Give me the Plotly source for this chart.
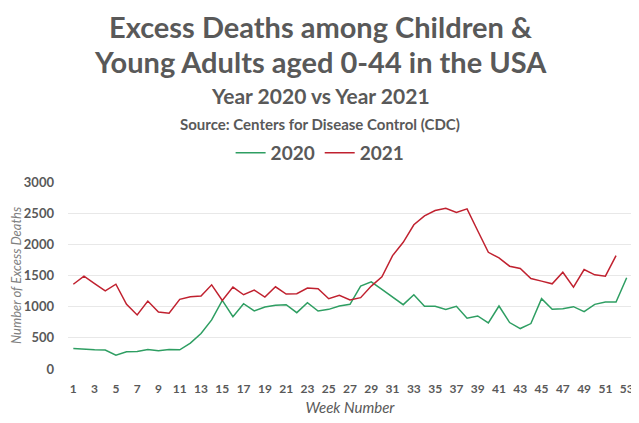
import plotly.graph_objects as go

# Weekly excess deaths, ages 0-44, USA (CDC)
weeks = list(range(1, 54))

deaths2020 = [330, 314, 308, 303, 223, 277, 282, 314, 293, 314,
              308, 415, 569, 787, 1101, 840, 1048, 931, 995, 1021,
              1032, 904, 1064, 931, 957, 1011, 1037, 1330, 1399, 1277,
              1160, 1032, 1191, 1005, 1005, 957, 1005, 814, 851, 739,
              1011, 745, 649, 729, 1128, 957, 968, 1000, 920, 1037,
              1074, 1074, 1463]

deaths2021 = [1360, 1490, 1370, 1255, 1360, 1037, 867, 1090, 915, 894,
              1117, 1160, 1170, 1350, 1101, 1314, 1191, 1266, 1154, 1319,
              1202, 1207, 1298, 1287, 1128, 1181, 1106, 1144, 1330, 1479,
              1819, 2032, 2314, 2457, 2543, 2580, 2511, 2569, 2218, 1872,
              1782, 1649, 1612, 1452, 1410, 1367, 1553, 1314, 1596, 1511,
              1489, 1819]

xTicks = list(range(1, 54, 2))
yTicks = [0, 500, 1000, 1500, 2000, 2500, 3000]

# Styles
fontFam = "Lato, 'Open Sans', sans-serif"
textColor = "#595959"
green = "#2E9E62"
red = "#C0212F"
centerX = 0.447   # title block centre, in plot-area fraction

# the page body has an 8px margin, so the figure is drawn 8px smaller
figW, figH = 639 - 8, 423 - 8

fig = go.Figure()
fig.add_trace(go.Scatter(x=weeks, y=deaths2020, mode="lines", name="<b>2020</b>",
                         line=dict(color=green, width=1.5)))
fig.add_trace(go.Scatter(x=weeks[:len(deaths2021)], y=deaths2021, mode="lines", name="<b>2021</b>",
                         line=dict(color=red, width=1.5)))

fig.update_layout(
    width=figW, height=figH,
    margin=dict(l=60, r=7, t=174, b=54, autoexpand=False),
    paper_bgcolor="white", plot_bgcolor="white",
    font=dict(family=fontFam, color=textColor),
    legend=dict(orientation="h", x=centerX, xanchor="center", y=1.155, yanchor="middle",
                font=dict(size=19, color=textColor), itemwidth=30,
                tracegroupgap=0),
    showlegend=True,
)

# Title block (plot area is 187px tall)
titleLines = [("<b>Excess Deaths among Children &</b>", 1.829, 29),
              ("<b>Young Adults aged 0-44 in the USA</b>", 1.647, 29),
              ("<b>Year 2020 vs Year 2021</b>", 1.460, 21),
              ("<b>Source: Centers for Disease Control (CDC)</b>", 1.310, 15)]
for txt, yPos, sz in titleLines:
    fig.add_annotation(text=txt, xref="paper", yref="paper", x=centerX, y=yPos,
                       xanchor="center", yanchor="middle", showarrow=False,
                       font=dict(size=sz, color=textColor))

fig.update_xaxes(range=[0.5, 53.5], tickmode="array", tickvals=xTicks,
                 ticktext=["<b>%d</b>" % t for t in xTicks], automargin=False,
                 showgrid=False, zeroline=False, showline=False, ticks="",
                 ticklabelstandoff=11, tickfont=dict(size=12, color=textColor),
                 title=dict(text="<i>Week Number</i>", font=dict(size=15, color=textColor), standoff=7))
fig.update_yaxes(range=[0, 3000], tickmode="array", tickvals=yTicks,
                 ticktext=["<b>%d</b>" % t for t in yTicks], automargin=False,
                 showgrid=True, gridcolor="#E8E8E8", gridwidth=1, zeroline=False,
                 showline=False, ticks="", ticklabelstandoff=13,
                 tickfont=dict(size=13, color=textColor),
                 title=dict(text="<i>Number of Excess Deaths</i>", font=dict(size=13, color="#7F7F7F"), standoff=0))

fig.write_html("out.html")
